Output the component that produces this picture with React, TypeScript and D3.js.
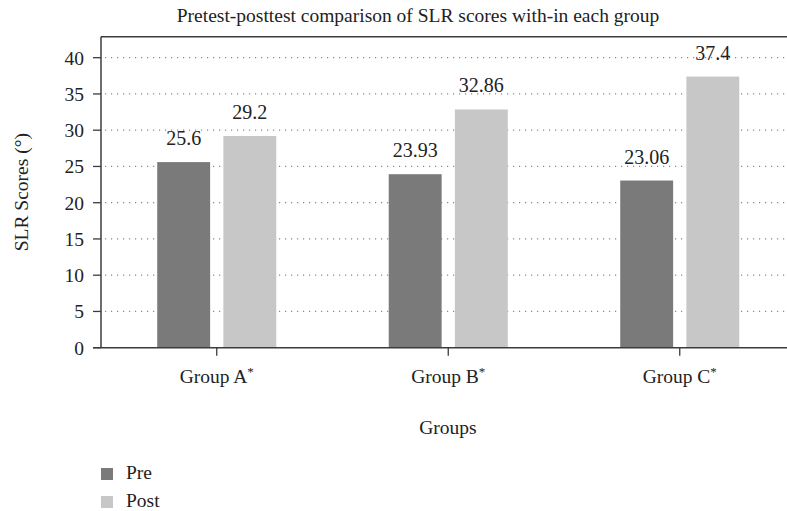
import * as d3 from "d3";

const groups = ["Group A", "Group B", "Group C"];
const series = ["Pre", "Post"];
const preValues = [25.6, 23.93, 23.06];
const postValues = [29.2, 32.86, 37.4];
const preLabels = ["25.6", "23.93", "23.06"];
const postLabels = ["29.2", "32.86", "37.4"];
const yTicks = [0, 5, 10, 15, 20, 25, 30, 35, 40];
const colors = ["#7a7a7a", "#c6c7c6"];

const W = 787;
const H = 511;
const FONT = "'Liberation Serif', 'Times New Roman', serif";

export default function App() {
  const margin = { left: 101, right: 795.5, top: 57.7, bottom: 347.7 };
  const yMax = 42.9;

  const y = d3.scaleLinear().domain([0, 40]).range([margin.bottom, margin.top]);
  const x = d3.scaleBand().domain(groups).range([margin.left, margin.right]);
  const xs = d3
    .scaleBand()
    .domain(series)
    .range([0, x.bandwidth()])
    .paddingInner(0.2)
    .paddingOuter(0.85);

  const rows = groups.map((g, i) => ({
    group: g,
    vals: [
      { key: "Pre", v: preValues[i], label: preLabels[i] },
      { key: "Post", v: postValues[i], label: postLabels[i] },
    ],
  }));

  const frameTop = y(yMax);
  const axisColor = "#3c3c3c";

  return (
    <svg width={W} height={H} style={{ position: "absolute", left: 0, top: 0 }} fontFamily={FONT}>
      <rect width={W} height={H} fill="#fff" />
      {/* title */}
      <text x={418} y={22} textAnchor="middle" fontSize={19.5} fill="#222">
        Pretest-posttest comparison of SLR scores with-in each group
      </text>

      {/* gridlines */}
      {yTicks
        .filter((t) => t > 0)
        .map((t) => (
          <line
            key={t}
            x1={margin.left}
            x2={margin.right}
            y1={y(t)}
            y2={y(t)}
            stroke="#888"
            strokeWidth={1.2}
            strokeDasharray="1.2 4.8"
            strokeDashoffset={-4}
          />
        ))}

      {/* bars */}
      {rows.map((r) => (
        <g key={r.group} transform={`translate(${x(r.group)},0)`}>
          {r.vals.map((d, j) => (
            <g key={d.key}>
              <rect
                x={xs(d.key)}
                y={y(d.v)}
                width={xs.bandwidth()}
                height={y(0) - y(d.v)}
                fill={colors[j]}
              />
              <text
                x={(xs(d.key) as number) + xs.bandwidth() / 2}
                y={y(d.v) - 17}
                textAnchor="middle"
                fontSize={20}
                fill="#222"
              >
                {d.label}
              </text>
            </g>
          ))}
        </g>
      ))}

      {/* frame */}
      <line x1={margin.left} x2={margin.right} y1={frameTop} y2={frameTop} stroke={axisColor} strokeWidth={1.5} />
      <line x1={margin.left} x2={margin.left} y1={frameTop} y2={margin.bottom} stroke={axisColor} strokeWidth={1.5} />
      <line x1={margin.left - 8} x2={margin.right} y1={margin.bottom} y2={margin.bottom} stroke={axisColor} strokeWidth={1.5} />

      {/* y axis ticks */}
      {yTicks.map((t) => (
        <g key={t}>
          <line x1={margin.left - 8} x2={margin.left} y1={y(t)} y2={y(t)} stroke={axisColor} strokeWidth={1.3} />
          <text x={margin.left - 17} y={y(t)} dy="0.35em" textAnchor="end" fontSize={19.5} fill="#222">
            {t}
          </text>
        </g>
      ))}

      {/* x axis ticks */}
      {groups.map((g) => {
        const cx = (x(g) as number) + x.bandwidth() / 2;
        return (
          <g key={g}>
            <line x1={cx} x2={cx} y1={margin.bottom} y2={margin.bottom + 8} stroke={axisColor} strokeWidth={1.3} />
            <text x={cx} y={383} textAnchor="middle" fontSize={19.5} fill="#222">
              {g}
              <tspan fontSize={13} dy={-7}>*</tspan>
            </text>
          </g>
        );
      })}

      {/* axis titles */}
      <text x={448} y={434} textAnchor="middle" fontSize={19.5} fill="#222">
        Groups
      </text>
      <text
        transform={`translate(28,${(frameTop + margin.bottom) / 2}) rotate(-90)`}
        textAnchor="middle"
        fontSize={19.5}
        fill="#222"
      >
        SLR Scores (°)
      </text>

      {/* legend */}
      {series.map((s, i) => (
        <g key={s} transform={`translate(101,${468 + i * 28})`}>
          <rect width={12} height={12} fill={colors[i]} />
          <text x={25} y={11} fontSize={19.5} fill="#222">
            {s}
          </text>
        </g>
      ))}
    </svg>
  );
}
